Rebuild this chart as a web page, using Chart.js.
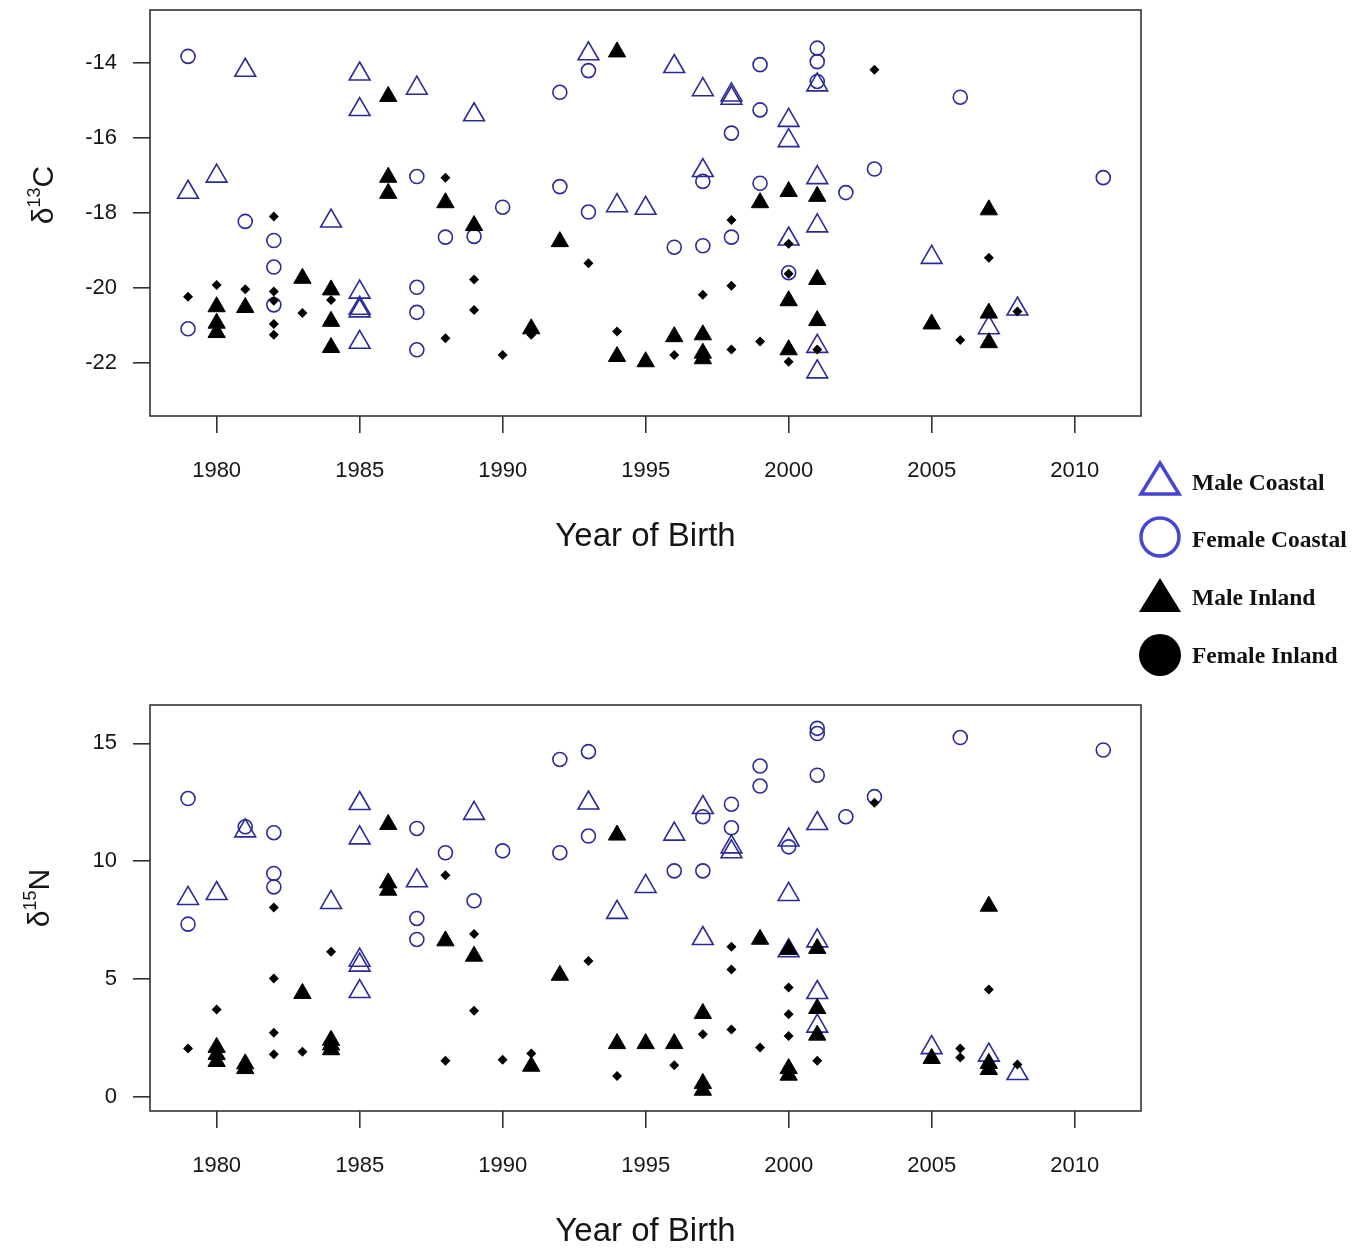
<!DOCTYPE html>
<html>
<head>
<meta charset="utf-8">
<script src="https://cdn.jsdelivr.net/npm/chart.js@4.4.1/dist/chart.umd.min.js"></script>
<style>
  body { margin: 0; background: #fff; width: 1364px; height: 1249px; overflow: hidden; position: relative; }
  .plot { position: absolute; left: 0; width: 1150px; height: 556px; }
  .item { position: absolute; left: 1136px; width: 228px; height: 46px; }
  .item svg { position: absolute; left: 0; top: 0; }
  .item span { position: absolute; left: 56px; top: 0; line-height: 46px; white-space: nowrap;
    font-family: "Liberation Serif", "Times New Roman", serif; font-weight: bold; font-size: 23.5px; color: #111; }
</style>
</head>
<body>
<div class="plot" style="top:0"><canvas id="carbonChart"></canvas></div>
<div class="plot" style="top:695px"><canvas id="nitrogenChart"></canvas></div>

<div class="item" style="top:459px">
  <svg width="48" height="46"><polygon points="24,4 43,35 5,35" fill="none" stroke="#4646d0" stroke-width="3.5"/></svg>
  <span>Male Coastal</span>
</div>
<div class="item" style="top:516px">
  <svg width="48" height="46"><circle cx="24" cy="21" r="19" fill="none" stroke="#4646d0" stroke-width="3.5"/></svg>
  <span>Female Coastal</span>
</div>
<div class="item" style="top:574px">
  <svg width="48" height="46"><polygon points="24,4 45,38 3,38" fill="#000"/></svg>
  <span>Male Inland</span>
</div>
<div class="item" style="top:632px">
  <svg width="48" height="46"><circle cx="24" cy="23" r="21" fill="#000"/></svg>
  <span>Female Inland</span>
</div>

<script>
  // tick labels
  const yearTicks = [1980, 1985, 1990, 1995, 2000, 2005, 2010];
  const carbonTicks = [-22, -20, -18, -16, -14];
  const nitrogenTicks = [0, 5, 10, 15];

  // --- d13C: [year, value] ---
  const maleCoastalC = [
    [1979, -17.45], [1980, -17.02], [1981, -14.19], [1984, -18.22], [1985, -14.29], [1985, -15.24],
    [1985, -20.12], [1985, -20.55], [1985, -20.62], [1985, -21.46], [1987, -14.67], [1989, -15.38],
    [1993, -13.75], [1994, -17.81], [1995, -17.88], [1996, -14.09], [1997, -14.71], [1997, -16.87],
    [1998, -14.85], [1998, -14.94], [2000, -15.53], [2000, -16.07], [2000, -18.70], [2001, -14.58],
    [2001, -17.06], [2001, -18.35], [2001, -21.57], [2001, -22.25], [2005, -19.19], [2007, -21.07],
    [2008, -20.57]
  ];
  const femaleCoastalC = [
    [1979, -13.82], [1979, -21.10], [1981, -18.23], [1982, -18.74], [1982, -19.45], [1982, -20.46],
    [1987, -17.03], [1987, -19.99], [1987, -20.66], [1987, -21.66], [1988, -18.65], [1989, -18.63],
    [1990, -17.85], [1992, -14.78], [1992, -17.30], [1993, -14.20], [1993, -17.98], [1996, -18.92],
    [1997, -17.16], [1997, -18.88], [1998, -15.87], [1998, -18.65], [1999, -14.04], [1999, -15.25],
    [1999, -17.21], [2000, -19.60], [2001, -13.60], [2001, -13.96], [2001, -14.49], [2002, -17.46],
    [2003, -16.83], [2006, -14.91], [2011, -17.06]
  ];
  const maleInlandC = [
    [1980, -20.51], [1980, -20.95], [1980, -21.20], [1981, -20.53], [1983, -19.75], [1984, -20.06],
    [1984, -20.90], [1984, -21.60], [1986, -14.89], [1986, -17.05], [1986, -17.48], [1988, -17.73],
    [1989, -18.34], [1991, -21.10], [1992, -18.77], [1994, -13.70], [1994, -21.84], [1995, -21.98],
    [1996, -21.31], [1997, -21.26], [1997, -21.75], [1997, -21.90], [1999, -17.73], [2000, -17.43],
    [2000, -20.35], [2000, -21.66], [2001, -17.56], [2001, -19.78], [2001, -20.88], [2005, -20.97],
    [2007, -17.92], [2007, -20.68], [2007, -21.47]
  ];
  const femaleInlandC = [
    [1979, -20.24], [1980, -19.93], [1981, -20.04], [1982, -18.10], [1982, -20.10], [1982, -20.35],
    [1982, -20.97], [1982, -21.26], [1983, -20.68], [1984, -20.33], [1988, -17.06], [1988, -21.35],
    [1989, -19.78], [1989, -20.60], [1990, -21.80], [1991, -21.26], [1993, -19.35], [1994, -21.17],
    [1996, -21.80], [1997, -20.19], [1998, -18.19], [1998, -19.95], [1998, -21.65], [1999, -21.44],
    [2000, -18.83], [2000, -19.63], [2000, -21.98], [2001, -21.65], [2003, -14.18], [2006, -21.40],
    [2007, -19.20], [2008, -20.64]
  ];

  // --- d15N: [year, value] ---
  const maleCoastalN = [
    [1979, 8.42], [1980, 8.63], [1981, 11.29], [1984, 8.25], [1985, 12.45], [1985, 10.99],
    [1985, 5.80], [1985, 5.59], [1985, 4.47], [1987, 9.17], [1989, 12.03], [1993, 12.47],
    [1994, 7.83], [1995, 8.93], [1996, 11.15], [1997, 12.28], [1997, 6.72], [1998, 10.61],
    [1998, 10.40], [2000, 10.90], [2000, 8.59], [2000, 6.20], [2001, 11.60], [2001, 6.62],
    [2001, 4.43], [2001, 3.00], [2005, 2.09], [2007, 1.77], [2008, 0.99]
  ];
  const femaleCoastalN = [
    [1979, 12.66], [1979, 7.33], [1981, 11.46], [1982, 11.21], [1982, 9.48], [1982, 8.91],
    [1987, 11.39], [1987, 7.57], [1987, 6.68], [1988, 10.36], [1989, 8.32], [1990, 10.44],
    [1992, 14.32], [1992, 10.36], [1993, 14.65], [1993, 11.07], [1996, 9.59], [1997, 11.89],
    [1997, 9.59], [1998, 12.42], [1998, 11.42], [1999, 14.04], [1999, 13.19], [2000, 10.61],
    [2001, 15.64], [2001, 15.42], [2001, 13.65], [2002, 11.89], [2003, 12.74], [2006, 15.25],
    [2011, 14.72]
  ];
  const maleInlandN = [
    [1980, 2.10], [1980, 1.80], [1980, 1.50], [1981, 1.40], [1981, 1.20], [1983, 4.39],
    [1984, 2.40], [1984, 2.20], [1984, 2.00], [1986, 11.56], [1986, 9.08], [1986, 8.77],
    [1988, 6.62], [1989, 5.97], [1991, 1.30], [1992, 5.16], [1994, 11.11], [1994, 2.26],
    [1995, 2.26], [1996, 2.26], [1997, 3.54], [1997, 0.57], [1997, 0.28], [1999, 6.69],
    [2000, 6.25], [2000, 1.20], [2000, 0.92], [2001, 6.30], [2001, 3.75], [2001, 2.62],
    [2005, 1.63], [2007, 8.09], [2007, 1.42], [2007, 1.16]
  ];
  const femaleInlandN = [
    [1979, 2.05], [1980, 3.71], [1982, 8.04], [1982, 5.02], [1982, 2.72], [1982, 1.81],
    [1983, 1.91], [1984, 6.16], [1988, 9.41], [1988, 1.53], [1989, 6.91], [1989, 3.65],
    [1990, 1.58], [1991, 1.84], [1993, 5.77], [1994, 0.89], [1996, 1.34], [1997, 2.66],
    [1998, 6.37], [1998, 5.41], [1998, 2.86], [1999, 2.09], [2000, 4.64], [2000, 3.51],
    [2000, 2.58], [2001, 1.53], [2003, 12.48], [2006, 2.05], [2006, 1.67], [2007, 4.56],
    [2008, 1.37]
  ];

  const BLUE = '#2a2a98';
  const INK = '#151515';

  // box around the plot region
  const boxPlugin = {
    id: 'box',
    afterDraw(chart) {
      const a = chart.chartArea, ctx = chart.ctx;
      ctx.save();
      ctx.strokeStyle = '#333';
      ctx.lineWidth = 1.6;
      ctx.strokeRect(a.left, a.top, a.right - a.left, a.bottom - a.top);
      ctx.restore();
    }
  };

  // rotated y title with superscript
  const yTitlePlugin = {
    id: 'yTitle',
    afterDraw(chart, args, o) {
      const ctx = chart.ctx;
      ctx.save();
      ctx.translate(o.x, o.y);
      ctx.rotate(-Math.PI / 2);
      ctx.fillStyle = INK;
      ctx.textBaseline = 'alphabetic';
      const big = '30px "Liberation Sans", Arial, sans-serif';
      const small = '18px "Liberation Sans", Arial, sans-serif';
      ctx.font = big; const w1 = ctx.measureText(o.main).width;
      ctx.font = small; const w2 = ctx.measureText(o.sup).width;
      ctx.font = big; const w3 = ctx.measureText(o.end).width;
      let x = -(w1 + w2 + w3) / 2;
      ctx.fillText(o.main, x, 0); x += w1;
      ctx.font = small; ctx.fillText(o.sup, x, -13); x += w2;
      ctx.font = big; ctx.fillText(o.end, x, 0);
      ctx.restore();
    }
  };

  const toXY = arr => arr.map(p => ({ x: p[0], y: p[1] }));
  const noPad = s => { s.paddingTop = 0; s.paddingBottom = 0; s.paddingLeft = 0; s.paddingRight = 0; };

  function makePlot(id, series, yTicks, yMin, yMax, title) {
    const ctx = document.getElementById(id).getContext('2d');
    return new Chart(ctx, {
      type: 'scatter',
      data: {
        datasets: [
          { label: 'Female Inland', data: toXY(series[3]), pointStyle: 'rectRot', pointRadius: 5,
            pointBackgroundColor: '#000', pointBorderColor: '#000', pointBorderWidth: 0 },
          { label: 'Male Inland', data: toXY(series[2]), pointStyle: 'triangle', pointRadius: 10,
            pointBackgroundColor: '#000', pointBorderColor: '#000', pointBorderWidth: 1 },
          { label: 'Female Coastal', data: toXY(series[1]), pointStyle: 'circle', pointRadius: 7,
            pointBackgroundColor: 'rgba(0,0,0,0)', pointBorderColor: BLUE, pointBorderWidth: 1.6 },
          { label: 'Male Coastal', data: toXY(series[0]), pointStyle: 'triangle', pointRadius: 12,
            pointBackgroundColor: 'rgba(0,0,0,0)', pointBorderColor: BLUE, pointBorderWidth: 1.6 }
        ]
      },
      options: {
        responsive: true,
        maintainAspectRatio: false,
        animation: false,
        events: [],
        layout: { autoPadding: false, padding: { top: 10, right: 9, left: 0, bottom: 0 } },
        plugins: {
          legend: { display: false },
          tooltip: { enabled: false },
          yTitle: title
        },
        scales: {
          x: {
            type: 'linear',
            min: 1977.67,
            max: 2012.32,
            afterFit: s => { s.height = 140; noPad(s); },
            afterBuildTicks: s => { s.ticks = yearTicks.map(v => ({ value: v })); },
            border: { display: false },
            grid: { drawOnChartArea: false, drawTicks: true, tickLength: 17, color: '#333', lineWidth: 1.6 },
            ticks: { padding: 25, autoSkip: false, maxRotation: 0, color: INK,
              callback: v => String(v),
              font: { family: '"Liberation Sans", Arial, sans-serif', size: 22 } },
            title: { display: true, text: 'Year of Birth', color: INK, padding: { top: 0, bottom: 3 },
              font: { family: '"Liberation Sans", Arial, sans-serif', size: 33, lineHeight: 1 } }
          },
          y: {
            type: 'linear',
            min: yMin,
            max: yMax,
            afterFit: s => { s.width = 150; noPad(s); },
            afterBuildTicks: s => { s.ticks = yTicks.map(v => ({ value: v })); },
            border: { display: false },
            grid: { drawOnChartArea: false, drawTicks: true, tickLength: 17, color: '#333', lineWidth: 1.6 },
            ticks: { padding: 16, color: INK,
              callback: v => String(v),
              font: { family: '"Liberation Sans", Arial, sans-serif', size: 22 } }
          }
        }
      },
      plugins: [boxPlugin, yTitlePlugin]
    });
  }

  makePlot('carbonChart', [maleCoastalC, femaleCoastalC, maleInlandC, femaleInlandC],
    carbonTicks, -23.43, -12.58, { main: 'δ', sup: '13', end: 'C', x: 53, y: 195 });
  makePlot('nitrogenChart', [maleCoastalN, femaleCoastalN, maleInlandN, femaleInlandN],
    nitrogenTicks, -0.60, 16.63, { main: 'δ', sup: '15', end: 'N', x: 49, y: 203 });
</script>
</body>
</html>
